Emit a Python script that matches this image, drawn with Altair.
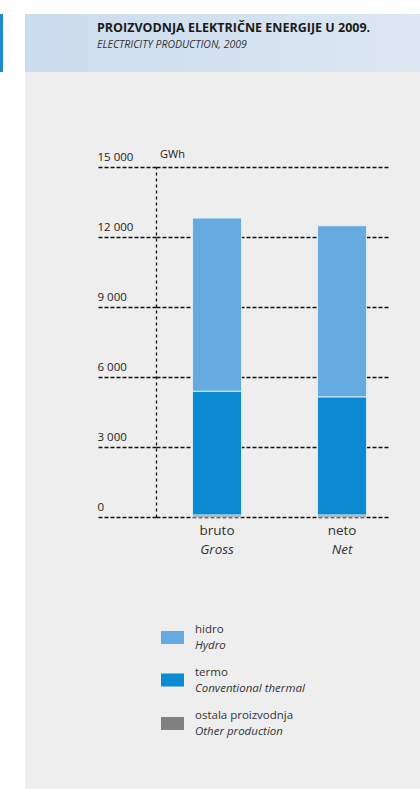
import altair as alt
import pandas as pd

# ---- data ----
categories = ["bruto", "neto"]
categories_en = ["Gross", "Net"]
hydro = [7420, 7330]
thermal = [5300, 5060]
other = [90, 90]
sources = ["ostala", "termo", "hidro"]          # stacking order bottom -> top
source_colors = ["#808080", "#0b89d1", "#65abe2"]
legend_keys = ["hidro", "termo", "ostala"]
legend_hr = ["hidro", "termo", "ostala proizvodnja"]
legend_en = ["Hydro", "Conventional thermal", "Other production"]
y_ticks = [0, 3000, 6000, 9000, 12000, 15000]
title_hr = "PROIZVODNJA ELEKTRIČNE ENERGIJE U 2009."
title_en = "ELECTRICITY PRODUCTION, 2009"
unit = "GWh"

FONT = "Open Sans"

rows = []
for i, c in enumerate(categories):
    for k, (s, vals) in enumerate(zip(sources, [other, thermal, hydro])):
        rows.append({"kategorija": c, "izvor": s, "GWh": vals[i], "red": k})
df = pd.DataFrame(rows)
df_cat = pd.DataFrame({"kategorija": categories, "en": categories_en})
one = pd.DataFrame({"a": [0]})

W, H = 232, 350
PL, PT = 156, 167

xscale = alt.Scale(domain=categories, paddingInner=0.608, paddingOuter=0.232, align=0.63)
cscale = alt.Scale(domain=sources, range=source_colors)

# ---- decorative page pieces ----
def rect(x, x2, y, y2, fill):
    return alt.Chart(one).mark_rect(fill=fill).encode(
        x=alt.value(x), x2=alt.value(x2), y=alt.value(y), y2=alt.value(y2))

white_left = rect(-PL, 25 - PL, -PT, 789 - PT, "white")
white_top = rect(-PL, 420 - PL, -PT, 14 - PT, "white")
header = alt.Chart(one).mark_rect(
    fill=alt.LinearGradient(gradient="linear", x1=0, x2=1, y1=0, y2=0,
                            stops=[alt.GradientStop(offset=0, color="#cbdcee"),
                                   alt.GradientStop(offset=1, color="#dce7f2")])
).encode(x=alt.value(25 - PL), x2=alt.value(420 - PL), y=alt.value(14 - PT), y2=alt.value(72 - PT))
blue_strip = rect(-PL, 3 - PL, 14 - PT, 72 - PT, "#1f8ad0")

t1 = alt.Chart(one).mark_text(text=title_hr, font=FONT, fontWeight="bold", fontSize=12.5,
                              align="left", baseline="middle", color="#1a1a1a").encode(
    x=alt.value(97 - PL), y=alt.value(28 - PT))
t2 = alt.Chart(one).mark_text(text=title_en, font=FONT, fontStyle="italic", fontSize=10.5,
                              align="left", baseline="middle", color="#333333").encode(
    x=alt.value(97 - PL), y=alt.value(45 - PT))
unit_t = alt.Chart(one).mark_text(text=unit, font=FONT, fontSize=11, align="left",
                                  baseline="middle", color="#222222").encode(
    x=alt.value(4), y=alt.value(-12))

# ---- bars ----
bars = alt.Chart(df).mark_bar(stroke="#eef6fb", strokeWidth=0.8).encode(
    x=alt.X("kategorija:N", scale=xscale, axis=None, sort=categories),
    y=alt.Y("GWh:Q", stack="zero",
            scale=alt.Scale(domain=[0, 15000], nice=False),
            axis=alt.Axis(values=y_ticks, title=None,
                          labelExpr="replace(format(datum.value, ','), ',', ' ')",
                          grid=True, gridColor="#111111", gridDash=[4, 2], gridWidth=1.3, gridOpacity=1,
                          domain=True, domainColor="#111111", domainDash=[3, 3], domainWidth=1.3,
                          ticks=True, tickSize=59, tickColor="#111111", tickDash=[4, 2], tickWidth=1.3,
                          labelAlign="left", labelBaseline="bottom", labelOffset=-5, labelPadding=0,
                          labelFont=FONT, labelFontSize=11.5, labelColor="#222222")),
    color=alt.Color("izvor:N", scale=cscale, legend=None),
    order=alt.Order("red:Q", sort="ascending"),
)

xl1 = alt.Chart(df_cat).mark_text(font=FONT, fontSize=13.5, baseline="middle", color="#333333").encode(
    x=alt.X("kategorija:N", scale=xscale, axis=None, sort=categories),
    y=alt.value(531 - PT), text="kategorija:N")
xl2 = alt.Chart(df_cat).mark_text(font=FONT, fontSize=13.5, fontStyle="italic", baseline="middle",
                                  color="#333333").encode(
    x=alt.X("kategorija:N", scale=xscale, axis=None, sort=categories),
    y=alt.value(550 - PT), text="en:N")

# ---- legend ----
legend_layers = []
centers = [637.5, 680, 723.5]
for key, hr, en, cy in zip(legend_keys, legend_hr, legend_en, centers):
    d = pd.DataFrame({"izvor": [key]})
    legend_layers.append(alt.Chart(d).mark_rect().encode(
        x=alt.value(161 - PL), x2=alt.value(184 - PL),
        y=alt.value(cy - 6.5 - PT), y2=alt.value(cy + 6.5 - PT),
        color=alt.Color("izvor:N", scale=cscale, legend=None)))
    legend_layers.append(alt.Chart(d).mark_text(text=hr, font=FONT, fontSize=11.5, align="left",
                                                baseline="middle", color="#333333").encode(
        x=alt.value(195 - PL), y=alt.value(cy - 7.5 - PT)))
    legend_layers.append(alt.Chart(d).mark_text(text=en, font=FONT, fontSize=11.5, fontStyle="italic",
                                                align="left", baseline="middle", color="#333333").encode(
        x=alt.value(195 - PL), y=alt.value(cy + 8.5 - PT)))

chart = alt.layer(
    white_left, white_top, header, blue_strip, t1, t2, unit_t,
    bars, xl1, xl2, *legend_layers
).properties(
    width=W, height=H,
    autosize=alt.AutoSizeParams(type="none"),
    padding={"left": PL, "top": PT, "right": 420 - PL - W, "bottom": 789 - PT - H},
    background="#eeeeee",
).configure_view(stroke=None)

chart.save("out.html", embed_options={"renderer": "svg", "actions": False})
